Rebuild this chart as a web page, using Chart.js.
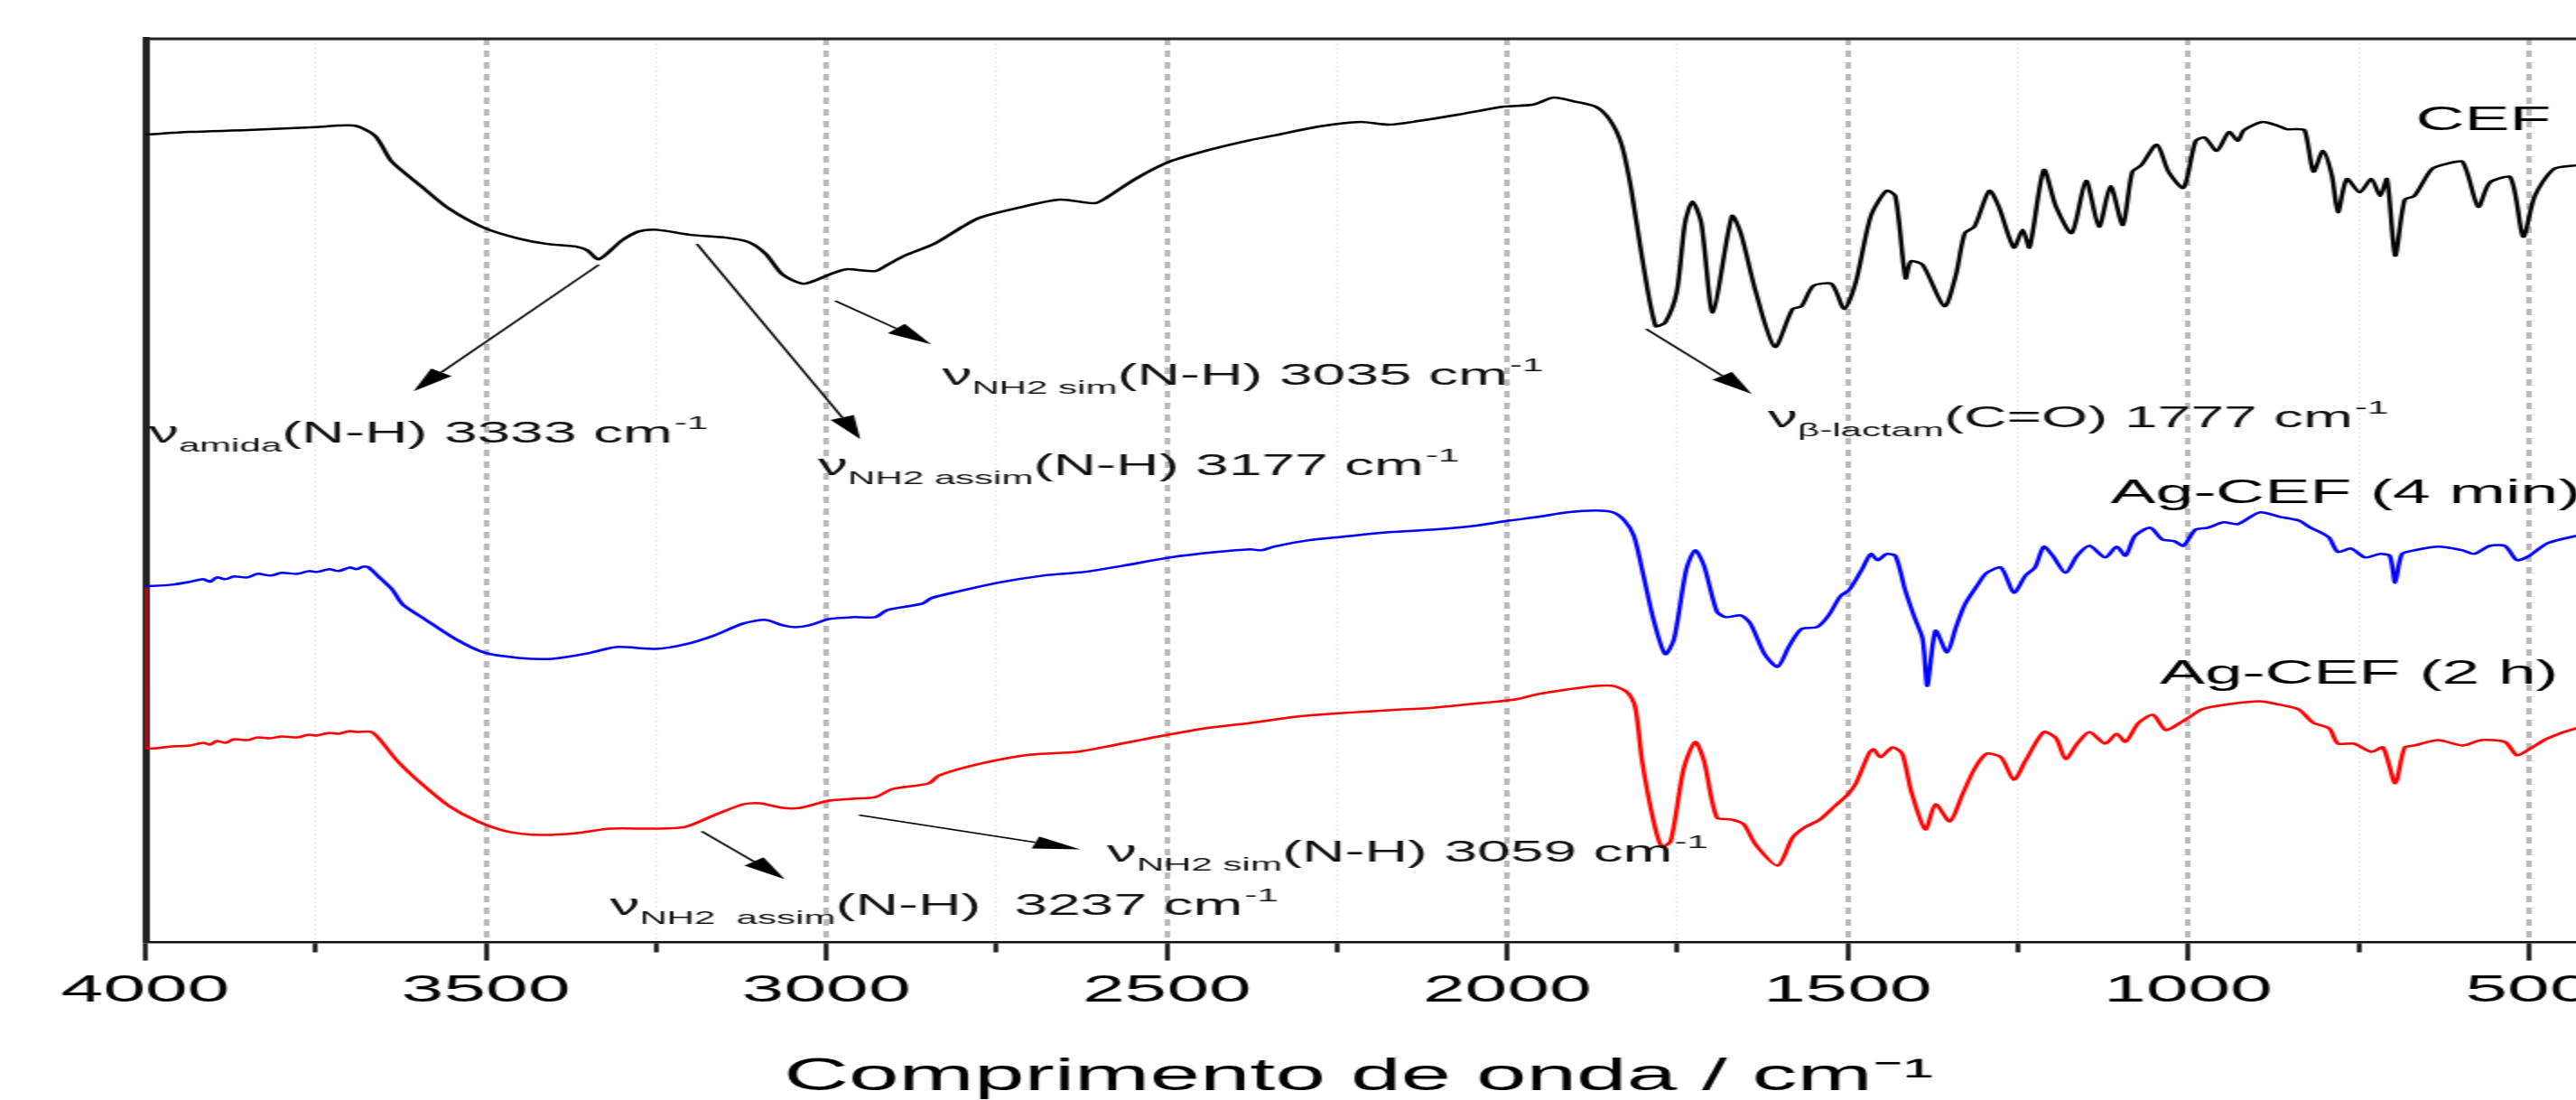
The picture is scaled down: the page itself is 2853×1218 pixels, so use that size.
<!DOCTYPE html>
<html>
<head>
<meta charset="utf-8">
<script src="https://cdn.jsdelivr.net/npm/chart.js@4.4.1/dist/chart.umd.min.js"></script>
<style>
  html, body { margin: 0; padding: 0; overflow: hidden; background: #fff; }
</style>
</head>
<body>
<!-- o desenho original está esticado na horizontal: desenhamos com metade da largura e esticamos 2x -->
<canvas id="grafico" width="1452" height="1240" style="display:block;width:2904px;height:1240px"></canvas>
<script>
// Espectros FTIR (transmitância em unidades arbitrárias, curvas deslocadas)
var cefNu = [4000,3935,3850,3757,3694,3663,3638,3595,3554,3503,3452,3410,3367,3351,3334,3300,3275,3253,3232,3199,3147,3114,3089,3064,3033,2996,2971,2928,2910,2885,2842,2800,2775,2724,2657,2606,2589,2546,2496,2428,2377,2343,2276,2216,2174,2131,2073,2005,1963,1932,1903,1870,1849,1832,1818,1802,1782,1768,1751,1739,1728,1715,1698,1670,1657,1635,1607,1581,1568,1550,1524,1505,1488,1466,1443,1430,1415,1407,1390,1358,1341,1328,1314,1292,1278,1256,1243,1233,1212,1194,1171,1150,1131,1114,1096,1082,1069,1046,1029,1007,989,976,958,940,927,918,891,869,855,842,829,816,802,789,780,767,748,731,718,708,696,682,668,642,619,597,574,557,527,508,491,463,430,400];
var cefT = [89.4,89.7,89.9,90.2,90.4,89.3,86.4,83.7,81.2,79.1,77.9,77.3,77.0,76.6,75.6,77.7,78.7,78.9,78.7,78.3,78.0,77.5,76.2,73.9,72.9,73.9,74.5,74.3,75.0,76.0,77.3,79.2,80.2,81.2,82.2,81.8,82.4,84.5,86.4,87.9,88.8,89.3,90.3,90.8,90.5,90.9,91.6,92.5,92.7,93.5,93.1,92.5,91.0,88.3,83.4,75.8,68.2,68.6,72.0,79.6,82.0,79.6,69.7,80.4,78.5,72.0,65.9,70.1,70.4,72.7,72.9,70.1,73.1,80.4,83.2,82.6,73.5,75.4,75.0,70.4,73.9,78.5,79.2,83.2,81.4,76.9,78.9,76.9,85.5,81.4,78.5,84.3,79.2,83.7,79.4,85.3,86.0,88.3,85.3,83.5,88.7,89.1,87.6,89.7,88.7,89.9,90.8,90.4,90.0,90.0,89.9,85.3,87.6,84.9,80.8,84.5,83.0,84.5,82.6,84.5,76.0,82.2,82.6,85.6,86.2,86.4,81.4,84.1,84.7,78.1,82.6,85.6,86.0,86.3];

var ag4minNu = [4000,3960,3935,3915,3905,3895,3882,3870,3850,3835,3816,3800,3776,3760,3748,3730,3716,3700,3690,3680,3672,3659,3638,3622,3588,3545,3503,3452,3402,3350,3309,3249,3207,3164,3122,3089,3064,3046,3025,2996,2962,2928,2910,2859,2846,2809,2749,2682,2622,2564,2496,2428,2377,2361,2343,2293,2241,2174,2106,2048,1996,1954,1912,1870,1845,1828,1814,1802,1785,1768,1755,1737,1724,1711,1692,1679,1657,1643,1622,1603,1586,1568,1545,1528,1511,1497,1479,1466,1456,1443,1430,1416,1403,1390,1383,1371,1354,1341,1328,1309,1296,1275,1256,1239,1225,1212,1199,1180,1163,1145,1122,1105,1092,1078,1056,1038,1020,1007,989,971,948,927,895,865,838,820,806,793,780,761,740,718,704,696,686,668,633,597,580,557,535,517,499,472,430,400];
var ag4minT = [39.4,39.6,39.9,40.2,39.9,40.4,40.2,40.5,40.4,40.8,40.6,40.9,40.8,41.1,41.0,41.3,41.1,41.5,41.3,41.6,41.5,40.6,39.1,37.4,35.7,33.6,32.1,31.5,31.4,32.0,32.7,32.5,33.0,34.0,35.3,35.7,35.1,34.9,35.1,35.8,36.0,36.0,36.8,37.5,38.1,38.8,39.8,40.6,41.0,41.7,42.6,43.2,43.5,43.4,43.8,44.5,44.9,45.4,45.7,46.1,46.7,47.1,47.6,47.8,47.6,46.7,45.0,41.3,35.7,31.9,33.6,41.3,43.4,41.7,36.6,36.0,36.2,35.3,31.9,30.5,32.8,34.7,34.9,36.2,38.3,39.1,41.3,43.0,42.3,43.0,42.8,39.1,36.2,33.6,28.4,34.5,32.1,34.9,37.4,39.6,40.9,41.5,38.7,40.6,41.5,43.8,42.8,40.9,42.8,43.9,42.6,43.8,42.8,45.0,45.9,44.6,44.4,43.9,45.7,45.9,46.5,46.3,47.6,47.1,46.7,45.9,45.4,44.8,43.2,43.6,42.6,43.0,42.8,39.8,43.0,43.4,43.8,43.4,43.0,43.9,43.9,42.3,42.8,44.2,45.0,45.4];

var ag2hNu = [4000,4000,3960,3935,3915,3905,3895,3882,3870,3850,3835,3816,3800,3776,3760,3748,3730,3716,3700,3690,3668,3655,3630,3595,3554,3512,3469,3419,3367,3317,3249,3207,3164,3122,3097,3064,3038,2996,2962,2928,2902,2850,2834,2767,2699,2631,2580,2512,2444,2377,2309,2241,2174,2106,2038,1988,1954,1912,1870,1845,1824,1812,1802,1785,1773,1760,1741,1724,1711,1692,1670,1653,1635,1603,1581,1564,1541,1519,1501,1488,1469,1462,1452,1434,1420,1407,1386,1371,1350,1332,1314,1296,1275,1256,1239,1212,1194,1180,1163,1145,1122,1105,1092,1073,1052,1033,1016,997,980,948,895,865,838,816,793,780,757,731,714,696,682,668,633,597,570,535,517,499,472,430,400];
var ag2hT = [39.3,21.6,21.7,21.8,22.1,21.9,22.3,22.1,22.5,22.4,22.7,22.6,22.8,22.7,23.0,22.9,23.2,23.1,23.4,23.3,23.3,22.4,20.1,17.6,15.1,13.4,12.3,11.9,12.1,12.6,12.6,12.8,14.1,15.3,15.4,14.9,14.9,15.7,15.9,16.1,17.0,17.6,18.5,19.9,20.8,21.1,21.8,22.8,23.7,24.3,25.0,25.4,25.7,26.0,26.5,26.9,27.5,28.0,28.4,28.4,27.7,26.0,20.1,13.4,10.6,11.2,19.2,22.2,20.1,13.8,13.6,13.1,10.8,8.5,11.6,12.7,13.6,15.1,16.3,17.6,20.9,21.4,20.5,21.6,20.9,16.8,12.5,15.3,13.4,16.3,19.2,20.9,20.5,18.0,20.1,23.3,22.6,20.3,22.0,23.3,22.0,23.1,22.2,24.3,25.2,23.5,24.1,25.0,25.8,26.3,26.7,26.3,25.8,24.3,23.7,22.0,22.0,21.1,21.6,17.6,21.6,21.8,22.4,21.8,22.4,22.2,20.7,21.4,22.6,23.7,24.0];

// Nomes das amostras e onde ficam (numero de onda, transmitância)
var serieNomes = ['CEF', 'Ag-CEF (4 min)', 'Ag-CEF (2 h)'];
var serieNomeNu = [666, 1114, 1042];
var serieNomeT = [89.9, 48.6, 28.6];

// Atribuições das bandas (texto) e setas
var notaSub = ['amida', 'NH2 assim', 'NH2 sim', 'β-lactam', 'NH2 sim', 'NH2  assim'];
var notaTexto = ['(N-H) 3333 cm', '(N-H) 3177 cm', '(N-H) 3035 cm', '(C=O) 1777 cm', '(N-H) 3059 cm', '(N-H)  3237 cm'];
var notaNu = [3995, 3012, 2830, 1617, 2588, 3318];
var notaT = [55.3, 51.7, 61.7, 57.0, 9.0, 3.1];
var setaDeNu = [3334, 3190, 2987, 1796, 3183, 2952];
var setaDeT = [75.0, 77.3, 71.0, 67.9, 12.3, 14.1];
var setaParaNu = [3606, 2950, 2846, 1641, 3061, 2627];
var setaParaT = [61.0, 55.7, 66.2, 60.7, 7.0, 10.3];

var ticksX = [500, 750, 1000, 1250, 1500, 1750, 2000, 2250, 2500, 2750, 3000, 3250, 3500, 3750, 4000];

var FONTE = '"Liberation Sans", Arial, sans-serif';

function pontos(nu, t) {
    return nu.map(function (v, i) { return { x: v, y: t[i] }; });
}

function ehPrincipal(c) {
    return c.tick && c.tick.value % 500 === 0;
}

// Plugin para o contorno de cima, setas e textos das bandas
var decoracao = {
    id: 'decoracao',
    afterDatasetsDraw: function (chart) {
        var ctx = chart.ctx;
        var a = chart.chartArea;
        var x = chart.scales.x, y = chart.scales.y;
        ctx.save();

        // linha superior do quadro
        ctx.strokeStyle = '#222';
        ctx.lineWidth = 3;
        ctx.beginPath();
        ctx.moveTo(a.left, a.top);
        ctx.lineTo(a.right, a.top);
        ctx.stroke();

        // setas
        ctx.strokeStyle = '#000';
        ctx.fillStyle = '#000';
        ctx.lineWidth = 1.5;
        for (var i = 0; i < setaDeNu.length; i++) {
            var x1 = x.getPixelForValue(setaDeNu[i]), y1 = y.getPixelForValue(setaDeT[i]);
            var x2 = x.getPixelForValue(setaParaNu[i]), y2 = y.getPixelForValue(setaParaT[i]);
            var ang = Math.atan2(y2 - y1, x2 - x1);
            var comp = 26, larg = 7;
            var bx = x2 - comp * Math.cos(ang), by = y2 - comp * Math.sin(ang);
            ctx.beginPath();
            ctx.moveTo(x1, y1);
            ctx.lineTo(bx, by);
            ctx.stroke();
            ctx.beginPath();
            ctx.moveTo(x2, y2);
            ctx.lineTo(bx - larg * Math.sin(ang), by + larg * Math.cos(ang));
            ctx.lineTo(bx + larg * Math.sin(ang), by - larg * Math.cos(ang));
            ctx.closePath();
            ctx.fill();
        }

        // textos das bandas: ν_sub(texto) cm^-1
        ctx.fillStyle = '#111';
        ctx.textBaseline = 'alphabetic';
        ctx.textAlign = 'left';
        for (var j = 0; j < notaTexto.length; j++) {
            var px = x.getPixelForValue(notaNu[j]);
            var py = y.getPixelForValue(notaT[j]);
            ctx.font = '33px ' + FONTE;
            ctx.fillText('ν', px, py);
            px += ctx.measureText('ν').width;
            ctx.font = '21px ' + FONTE;
            ctx.fillText(notaSub[j], px, py + 10);
            px += ctx.measureText(notaSub[j]).width;
            ctx.font = '33px ' + FONTE;
            ctx.fillText(notaTexto[j], px, py);
            px += ctx.measureText(notaTexto[j]).width;
            ctx.font = '21px ' + FONTE;
            ctx.fillText('-1', px + 1, py - 15);
        }

        // nomes das amostras
        ctx.font = '37.5px ' + FONTE;
        ctx.fillStyle = '#000';
        for (var k = 0; k < serieNomes.length; k++) {
            ctx.fillText(serieNomes[k], x.getPixelForValue(serieNomeNu[k]), y.getPixelForValue(serieNomeT[k]));
        }
        ctx.restore();
    }
};

Chart.defaults.font.family = FONTE;
Chart.defaults.color = '#000';

var ctx = document.getElementById('grafico').getContext('2d');
var chart = new Chart(ctx, {
    type: 'line',
    data: {
        datasets: [
            { label: serieNomes[0], data: pontos(cefNu, cefT), borderColor: '#000000' },
            { label: serieNomes[1], data: pontos(ag4minNu, ag4minT), borderColor: '#0000ff' },
            { label: serieNomes[2], data: pontos(ag2hNu, ag2hT), borderColor: '#ff0000' }
        ]
    },
    options: {
        responsive: false,
        animation: false,
        devicePixelRatio: 1,
        layout: { padding: { left: 80.5, top: 43, right: 14, bottom: 17 } },
        elements: {
            line: { borderWidth: 2.5, tension: 0.25, fill: false },
            point: { radius: 0 }
        },
        plugins: {
            legend: { display: false },
            tooltip: { enabled: false }
        },
        scales: {
            x: {
                type: 'linear',
                reverse: true,
                min: 400,
                max: 4000,
                afterBuildTicks: function (scale) {
                    scale.ticks = ticksX.slice().reverse().map(function (v) { return { value: v }; });
                },
                ticks: {
                    autoSkip: false,
                    maxRotation: 0,
                    minRotation: 0,
                    padding: 9,
                    font: { size: 42 },
                    color: '#000',
                    callback: function (v) { return v % 500 === 0 ? String(v) : ''; }
                },
                grid: {
                    color: function (c) { return ehPrincipal(c) ? '#b9b9b9' : '#e2e2e2'; },
                    lineWidth: function (c) { return ehPrincipal(c) ? 3 : 0.8; },
                    drawTicks: true,
                    tickLength: 20,
                    tickWidth: 2.5,
                    tickColor: '#111',
                    tickBorderDash: function (c) { return ehPrincipal(c) ? [] : [10, 40]; }
                },
                border: {
                    display: true,
                    width: 2.5,
                    color: '#111',
                    dash: function (c) { return ehPrincipal(c) ? [7, 6] : [2, 3]; }
                },
                title: {
                    display: true,
                    text: 'Comprimento de onda / cm⁻¹ ',
                    font: { size: 50 },
                    color: '#000',
                    padding: { top: 31, bottom: 0 }
                }
            },
            y: {
                min: 0,
                max: 100,
                ticks: { display: false },
                grid: { display: false, drawTicks: false },
                border: { display: true, width: 4, color: '#222' }
            }
        }
    },
    plugins: [decoracao]
});
</script>
</body>
</html>
